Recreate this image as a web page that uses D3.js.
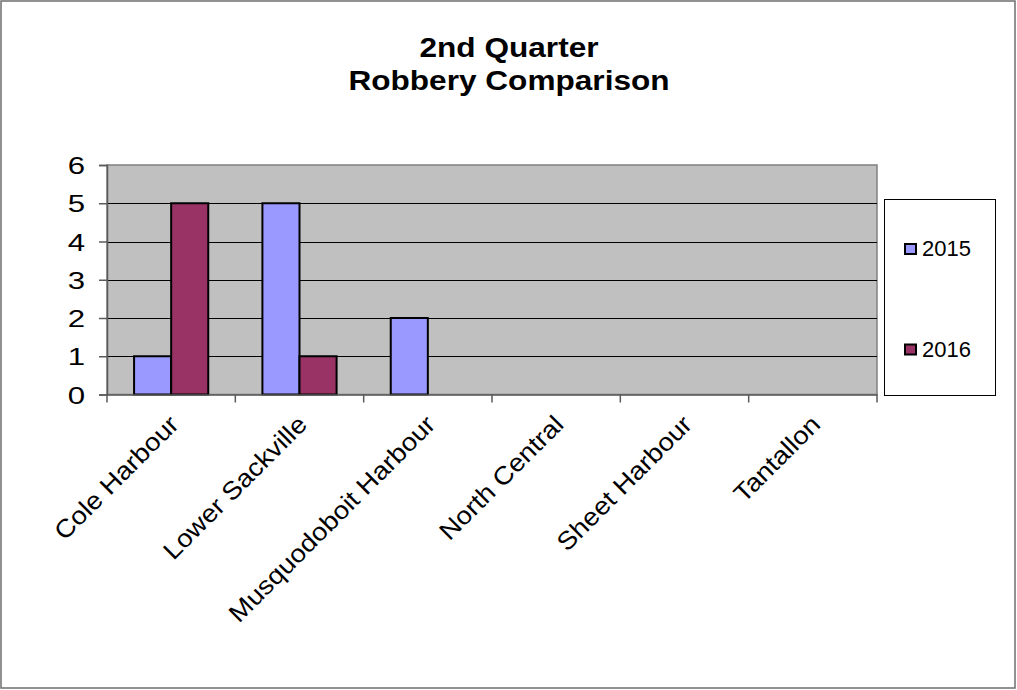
<!DOCTYPE html>
<html><head><meta charset="utf-8">
<script src="https://cdn.jsdelivr.net/npm/d3@7"></script>
<style>body{margin:0;background:#fff}svg{display:block}text{font-family:"Liberation Sans",Arial,sans-serif}</style>
</head><body>
<svg id="c" width="1017" height="690"></svg>
<script>
const categories = ["Cole Harbour","Lower Sackville","Musquodoboit Harbour","North Central","Sheet Harbour","Tantallon"];
const seriesNames = ["2015","2016"];
const values2015 = [1,5,2,0,0,0];
const values2016 = [5,1,0,0,0,0];
const yTicks = [0,1,2,3,4,5,6];
const titleLines = ["2nd Quarter","Robbery Comparison"];
const colors = ["#9999FF","#993366"];

const svg = d3.select("#c");
const W = 1017, H = 690;
const plot = {l:107, r:877, t:165, b:394.5};

svg.append("rect").attr("x",1).attr("y",1).attr("width",W-3).attr("height",H-3)
  .attr("fill","#fff").attr("stroke","#6e6e6e").attr("stroke-width",1.5);

const x0 = d3.scaleBand().domain(categories).range([plot.l, plot.r]).paddingInner(0).paddingOuter(0);
const x1 = d3.scaleBand().domain(seriesNames).range([0, x0.bandwidth()]).paddingInner(0).paddingOuter(0.73);
const y = d3.scaleLinear().domain([0,6]).range([plot.b, plot.t]);

// plot background
svg.append("rect").attr("x",plot.l).attr("y",plot.t).attr("width",plot.r-plot.l).attr("height",plot.b-plot.t)
  .attr("fill","#C0C0C0").attr("stroke","#808080").attr("stroke-width",1.5);

// gridlines
svg.append("g").selectAll("line").data(yTicks.filter(d=>d>0 && d<6)).join("line")
  .attr("x1",plot.l).attr("x2",plot.r).attr("y1",d=>Math.round(y(d))+0.5).attr("y2",d=>Math.round(y(d))+0.5)
  .attr("stroke","#000").attr("stroke-width",1);

// bars
const data = categories.map((c,i)=>({c, vals:[values2015[i], values2016[i]]}));
const g = svg.append("g");
data.forEach(d=>{
  d.vals.forEach((v,j)=>{
    if (v<=0) return;
    g.append("rect")
      .attr("x", x0(d.c)+x1(seriesNames[j]))
      .attr("y", y(v))
      .attr("width", x1.bandwidth())
      .attr("height", y(0)-y(v))
      .attr("fill", colors[j]).attr("stroke","#000").attr("stroke-width",2);
  });
});

// axes
const yAxis = d3.axisLeft(y).tickValues(yTicks).tickSize(8).tickFormat(d3.format("d"));
const ya = svg.append("g").attr("transform",`translate(${plot.l},0)`).call(yAxis);
ya.select(".domain").attr("stroke","#5a5a5a").attr("stroke-width",1.5);
ya.selectAll(".tick line").attr("stroke","#5a5a5a").attr("stroke-width",1.5);
ya.selectAll(".tick text").remove();
ya.selectAll(".tick").append("text")
  .attr("text-anchor","end").attr("fill","#000").attr("font-size",24)
  .attr("transform","translate(-22,8.5) scale(1.3,1)")
  .text(d=>d);

const xAxis = d3.axisBottom(x0).tickSize(0).tickFormat("");
const xa = svg.append("g").attr("transform",`translate(0,${plot.b})`).call(xAxis);
xa.select(".domain").attr("stroke","#5a5a5a").attr("stroke-width",1.5);
xa.selectAll(".tick").remove();
// category boundary ticks
const bounds = categories.map(c=>x0(c)).concat([plot.r]);
svg.append("g").selectAll("line").data(bounds).join("line")
  .attr("x1",d=>d).attr("x2",d=>d).attr("y1",plot.b).attr("y2",plot.b+8)
  .attr("stroke","#5a5a5a").attr("stroke-width",1.5);

// category labels
svg.append("g").selectAll("text").data(categories).join("text")
  .attr("text-anchor","end").attr("font-size",25).attr("fill","#000")
  .attr("transform",d=>`translate(${x0(d)+x0.bandwidth()/2+9},${426}) rotate(-45) scale(1.1,1)`)
  .text(d=>d);

// title
svg.append("g").selectAll("text").data(titleLines).join("text")
  .attr("text-anchor","middle").attr("font-size",27).attr("font-weight","bold").attr("fill","#000")
  .attr("transform",(d,i)=>`translate(509,${57+i*33}) scale(1.17,1)`)
  .text(d=>d);

// legend
svg.append("rect").attr("x",884.5).attr("y",199.5).attr("width",111).attr("height",196)
  .attr("fill","#fff").attr("stroke","#000").attr("stroke-width",1);
const lg = svg.append("g").selectAll("g").data(seriesNames).join("g")
  .attr("transform",(d,i)=>`translate(0,${i*100.5})`);
lg.append("rect").attr("x",905).attr("y",244).attr("width",11).attr("height",10)
  .attr("fill",(d,i)=>colors[i]).attr("stroke","#000").attr("stroke-width",2);
lg.append("text").attr("x",922).attr("y",256).attr("font-size",22).attr("fill","#000").text(d=>d);
</script>
</body></html>
